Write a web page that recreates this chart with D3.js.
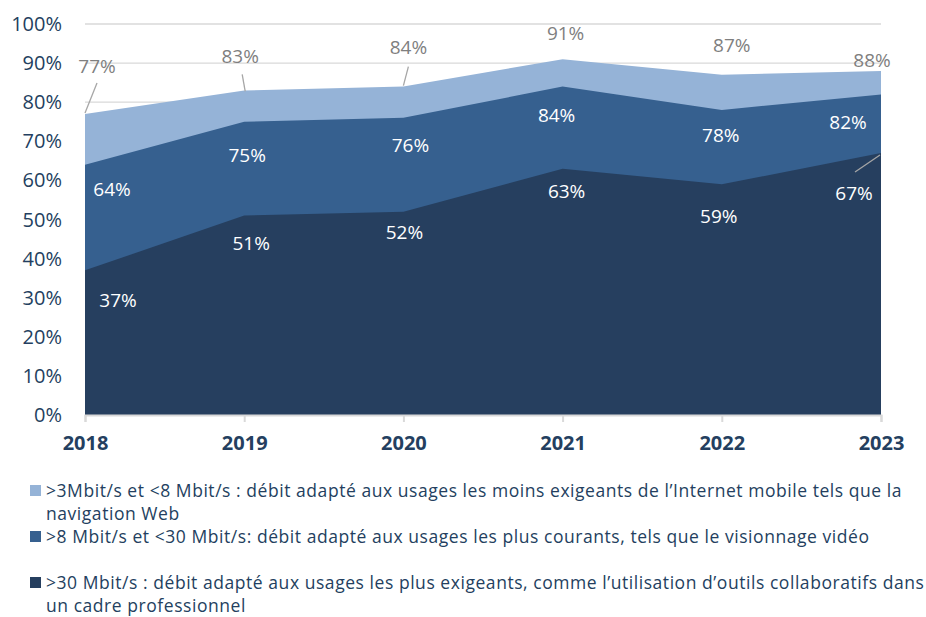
<!DOCTYPE html>
<html>
<head>
<meta charset="utf-8">
<style>
  body { margin: 0; background: #fff; }
  svg { display: block; font-family: "Open Sans", sans-serif; }
</style>
<script src="https://cdn.jsdelivr.net/npm/d3@7"></script>
</head>
<body>
<svg width="926" height="617"></svg>
<script>
var years = ["2018", "2019", "2020", "2021", "2022", "2023"];
var over3 = [77, 83, 84, 91, 87, 88];   // >3 Mbit/s (cumulative)
var over8 = [64, 75, 76, 84, 78, 82];   // >8 Mbit/s
var over30 = [37, 51, 52, 63, 59, 67];  // >30 Mbit/s
var yTicks = [0, 10, 20, 30, 40, 50, 60, 70, 80, 90, 100];
var legendLabels = [
  [">3Mbit/s et <8 Mbit/s : débit adapté aux usages les moins exigeants de l\u2019Internet mobile tels que la", "navigation Web"],
  [">8 Mbit/s et <30 Mbit/s: débit adapté aux usages les plus courants, tels que le visionnage vidéo"],
  [">30 Mbit/s : débit adapté aux usages les plus exigeants, comme l\u2019utilisation d\u2019outils collaboratifs dans", "un cadre professionnel"]
];

function draw() {
  var svg = d3.select("svg");
  var textCol = "#243f60";

  var x = d3.scalePoint().domain(years).range([85, 881]);
  var y = d3.scaleLinear().domain([0, 100]).range([415, 24]);

  // gridlines
  svg.append("g")
    .selectAll("line")
    .data(yTicks.slice(1))
    .join("line")
      .attr("x1", 85).attr("x2", 881)
      .attr("y1", function(d) { return y(d); })
      .attr("y2", function(d) { return y(d); })
      .attr("stroke", "#d9d9d9")
      .attr("stroke-width", 1.3);

  var series = [
    { vals: over3, color: "#95b3d7" },
    { vals: over8, color: "#36608f" },
    { vals: over30, color: "#263f5f" }
  ];

  var area = d3.area()
    .x(function(d, i) { return x(years[i]); })
    .y0(y(0))
    .y1(function(d) { return y(d); });

  svg.append("g")
    .selectAll("path")
    .data(series)
    .join("path")
      .attr("fill", function(d) { return d.color; })
      .attr("d", function(d) { return area(d.vals); });

  // y axis labels
  svg.append("g")
    .selectAll("text")
    .data(yTicks)
    .join("text")
      .attr("x", 62)
      .attr("y", function(d) { return y(d); })
      .attr("dy", "0.35em")
      .attr("text-anchor", "end")
      .attr("font-size", 20)
      .attr("fill", textCol)
      .text(function(d) { return d + "%"; });

  // x axis
  var xAxis = svg.append("g")
    .attr("transform", "translate(0,415)")
    .call(d3.axisBottom(x).tickSize(7).tickPadding(14));
  xAxis.select(".domain").attr("stroke", "#d9d9d9").attr("stroke-width", 2);
  xAxis.selectAll(".tick line").attr("stroke", "#d9d9d9").attr("stroke-width", 2);
  xAxis.selectAll(".tick text")
    .attr("font-family", "Open Sans, sans-serif")
    .attr("font-size", 20)
    .attr("font-weight", "bold")
    .attr("fill", textCol);

  // data labels: offsets from the point
  var off3 = [[12, -48], [-4, -34], [5, -39], [3, -26], [10, -29], [-9, -11]];
  var lead3 = [[[0, -1], [12, -31]], [[1, 1], [-2, -16]], [[0, -1], [5, -20]], null, null, null];
  var off8 = [[27, 25], [3, 34], [7, 28], [-6, 29], [-1, 25], [-33, 28]];
  var off30 = [[33, 30], [7, 28], [1, 21], [4, 23], [-3, 32], [-27, 40]];
  var lead30 = [null, null, null, null, null, [[-26, 19], [-1, 2]]];

  function labels(vals, offs, leads, color) {
    var g = svg.append("g");
    g.selectAll("line")
      .data(vals.map(function(v, i) { return { v: v, i: i, l: leads && leads[i] }; }).filter(function(d) { return d.l; }))
      .join("line")
        .attr("x1", function(d) { return x(years[d.i]) + d.l[0][0]; })
        .attr("y1", function(d) { return y(d.v) + d.l[0][1]; })
        .attr("x2", function(d) { return x(years[d.i]) + d.l[1][0]; })
        .attr("y2", function(d) { return y(d.v) + d.l[1][1]; })
        .attr("stroke", "#a6a6a6")
        .attr("stroke-width", 1.3);
    g.selectAll("text")
      .data(vals)
      .join("text")
        .attr("x", function(d, i) { return x(years[i]) + offs[i][0]; })
        .attr("y", function(d, i) { return y(d) + offs[i][1]; })
        .attr("dy", "0.35em")
        .attr("text-anchor", "middle")
        .attr("font-size", 19)
        .attr("fill", color)
        .text(function(d) { return d + "%"; });
  }
  labels(over3, off3, lead3, "#7f7f7f");
  labels(over8, off8, null, "#ffffff");
  labels(over30, off30, lead30, "#ffffff");

  // legend
  var legY = [491, 537, 583];
  var leg = svg.append("g");
  legendLabels.forEach(function(lines, k) {
    leg.append("rect")
      .attr("x", 30).attr("y", legY[k] - 6)
      .attr("width", 11).attr("height", 11)
      .attr("fill", series[k].color);
    lines.forEach(function(t, j) {
      leg.append("text")
        .attr("x", 46)
        .attr("y", legY[k] + j * 23)
        .attr("dy", "0.35em")
        .attr("font-size", 17.5)
        .attr("letter-spacing", 0.55)
        .attr("fill", textCol)
        .text(t);
    });
  });
}

window.onload = draw;
</script>
</body>
</html>
